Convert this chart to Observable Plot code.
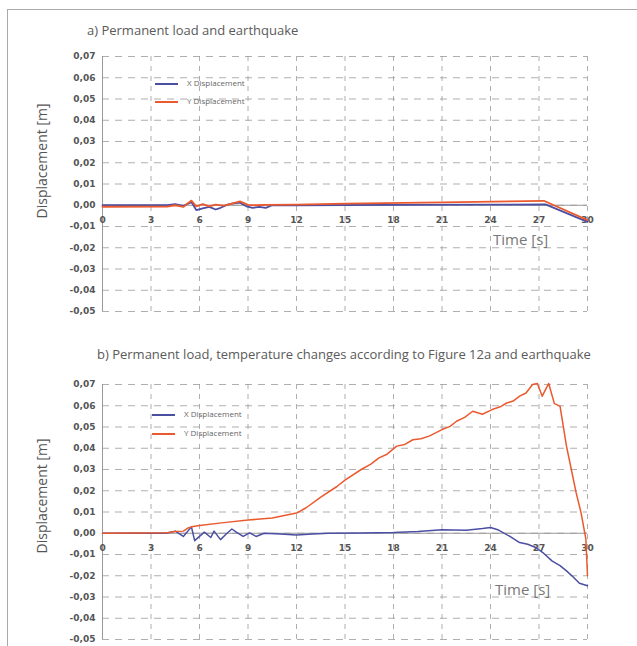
<!DOCTYPE html>
<html><head><meta charset="utf-8">
<script src="https://cdn.jsdelivr.net/npm/d3@7"></script>
<script src="https://cdn.jsdelivr.net/npm/@observablehq/plot@0.6"></script>
<style>
body{margin:0;background:#fff;font-family:"Open Sans",sans-serif;}
#page{position:relative;width:637px;height:646px;overflow:hidden;background:#fff;}
#frame{position:absolute;left:7px;top:9px;width:700px;height:700px;border-left:1.5px solid #aaa;border-top:1.5px solid #aaa;}
.title{position:absolute;font-size:13px;color:#5a5a5a;white-space:nowrap;line-height:16px;}
.ylab{position:absolute;width:200px;text-align:center;font-size:14px;line-height:16px;color:#555;transform:rotate(-90deg);transform-origin:center;white-space:nowrap;}
.tlab{position:absolute;font-size:15px;line-height:20px;color:#777;white-space:nowrap;}
.panel{position:absolute;left:0;}
.leg{position:absolute;font-size:8px;line-height:10px;color:#666;white-space:nowrap;}
.leg span.sw{display:inline-block;width:23px;height:0;border-top:2px solid;vertical-align:middle;margin-right:9px;}
</style></head>
<body><div id="page"><div id="frame"></div></div>
<script>
// ---- data ----
const xTicks = [0, 3, 6, 9, 12, 15, 18, 21, 24, 27, 30];
const yTicks = [-0.05, -0.04, -0.03, -0.02, -0.01, 0, 0.01, 0.02, 0.03, 0.04, 0.05, 0.06, 0.07];
const seriesNames = ["X Displacement", "Y Displacement"];
const seriesColors = ["#4b4fa3", "#ea5a2e"];
const titles = ["a) Permanent load and earthquake",
  "b) Permanent load, temperature changes according to Figure 12a and earthquake"];
const yLabel = "Displacement [m]";
const xLabel = "Time [s]";

// panel a
const aXTime = [0, 4, 4.5, 5, 5.5, 5.8, 6.2, 6.6, 7, 7.3, 7.7, 8, 8.5, 8.9, 9.3, 9.7, 10.1, 10.5, 12, 18, 24, 27.4, 30];
const aXVal  = [0, 0, 0.0005, -0.0003, 0.0015, -0.0023, -0.0015, -0.0008, -0.002, -0.0012, 0.0002, 0.0008, 0.0012, -0.0005, -0.0012, -0.0008, -0.0012, 0, 0, 0.0002, 0.0003, 0.0004, -0.0078];
const aYTime = [0, 4, 4.5, 5, 5.5, 5.8, 6.2, 6.6, 7, 7.5, 8, 8.5, 9, 9.5, 10, 12, 15, 21, 27.3, 30];
const aYVal  = [-0.0007, -0.0006, 0, -0.0008, 0.0022, -0.0005, 0.0005, -0.0005, 0.0003, -0.0002, 0.0008, 0.0018, 0.0002, 0, 0.0002, 0.0003, 0.0008, 0.0014, 0.0021, -0.007];

// panel b
const bXTime = [0, 3.9, 4.5, 5, 5.5, 5.7, 6.3, 6.7, 6.9, 7.3, 7.7, 8, 8.3, 8.7, 9.1, 9.5, 10, 11, 12, 13, 14, 16, 18, 19.5, 21, 22.5, 23.5, 24, 24.5, 25.2, 25.8, 26.3, 26.8, 27.3, 27.8, 28.3, 28.7, 29.1, 29.5, 30];
const bXVal  = [0, 0, 0.001, -0.0015, 0.003, -0.0035, 0.0005, -0.002, 0.001, -0.003, 0, 0.002, 0.0004, -0.0015, 0.0002, -0.0015, 0, -0.0003, -0.0008, -0.0004, 0, 0.0001, 0.0003, 0.0008, 0.0017, 0.0014, 0.0022, 0.0027, 0.0015, -0.0015, -0.0044, -0.0052, -0.0067, -0.0095, -0.013, -0.0152, -0.0177, -0.0205, -0.0235, -0.0247];
const bYTime = [0, 4, 4.5, 5, 5.3, 5.6, 6, 7.5, 9, 10.5, 12, 12.6, 13.5, 14.5, 15, 16, 16.6, 17.1, 17.6, 18.2, 18.7, 19.2, 19.7, 20.2, 20.6, 21, 21.5, 21.9, 22.4, 22.9, 23.5, 24.1, 24.6, 25, 25.4, 25.8, 26.2, 26.6, 26.9, 27.2, 27.6, 27.95, 28.3, 28.7, 29.0, 29.3, 29.6, 29.9, 30];
const bYVal  = [0, 0.0002, 0.0008, 0.001, 0.0025, 0.0032, 0.0037, 0.005, 0.0062, 0.0072, 0.0095, 0.012, 0.017, 0.022, 0.025, 0.03, 0.0325, 0.0355, 0.0372, 0.041, 0.0418, 0.044, 0.0445, 0.0457, 0.0472, 0.0488, 0.0503, 0.0527, 0.0545, 0.0574, 0.056, 0.0582, 0.0595, 0.0613, 0.0622, 0.0645, 0.066, 0.07, 0.0705, 0.0645, 0.0705, 0.061, 0.0598, 0.041, 0.03, 0.019, 0.0097, -0.0028, -0.02];

// ---- layout ----
const page = document.getElementById("page");
const fmtY = d => d.toFixed(2).replace(".", ",");

function rows(t, v, s) { return t.map((tt, i) => ({t: tt, v: v[i], s})); }

function panel(top, xT, xV, yT, yV, sw) {
  const data = [...rows(xT, xV, seriesNames[0]), ...rows(yT, yV, seriesNames[1])];
  const svg = Plot.plot({
    width: 637, height: 275,
    marginLeft: 102, marginRight: 50, marginTop: 10, marginBottom: 10,
    style: {background: "transparent", fontFamily: "DejaVu Sans", overflow: "visible"},
    x: {domain: [0, 30], axis: null},
    y: {domain: [-0.05, 0.07], axis: null},
    color: {domain: seriesNames, range: seriesColors},
    marks: [
      Plot.ruleY(yTicks, {x1: 0, x2: 30, stroke: "#9a9a9a", strokeWidth: 0.8, strokeDasharray: "7,6"}),
      Plot.ruleX(xTicks, {y1: -0.05, y2: 0.07, stroke: "#9a9a9a", strokeWidth: 0.8, strokeDasharray: "5,5"}),
      Plot.ruleX([0], {y1: -0.05, y2: 0.07, stroke: "#999", strokeWidth: 1}),
      Plot.ruleY([0], {x1: 0, x2: 30, stroke: "#999", strokeWidth: 1}),
      Plot.text(yTicks, {x: 0, y: d => d, text: fmtY, textAnchor: "end", dx: -7, fontSize: 9, fontWeight: "bold", fill: "#555"}),
      Plot.text(xTicks, {x: d => d, y: 0, text: d => String(d), dy: 15, fontSize: 9, fontWeight: "bold", fill: "#555"}),
      Plot.line(data, {x: "t", y: "v", z: "s", stroke: "s", strokeWidth: sw})
    ]
  });
  svg.classList.add("panel");
  svg.style.top = top + "px";
  page.appendChild(svg);
}

panel(46, aXTime, aXVal, aYTime, aYVal, 1.8);
panel(374, bXTime, bXVal, bYTime, bYVal, 1.5);

function addDiv(cls, html, left, top) {
  const d = document.createElement("div");
  d.className = cls; d.innerHTML = html;
  d.style.left = left + "px"; d.style.top = top + "px";
  page.appendChild(d); return d;
}
addDiv("title", titles[0], 87, 22);
addDiv("title", titles[1], 97, 346);
addDiv("ylab", yLabel, 42 - 100, 161 - 8);
addDiv("ylab", yLabel, 42 - 100, 496 - 8);
addDiv("tlab", xLabel, 493, 229);
addDiv("tlab", xLabel, 495, 579);
function legend(left, top, gap) {
  seriesNames.forEach((n, i) => {
    addDiv("leg", `<span class="sw" style="border-color:${seriesColors[i]}"></span>${n}`, left, top + i * gap);
  });
}
legend(155, 78, 18);
legend(152, 409, 19);
</script>
</body></html>
